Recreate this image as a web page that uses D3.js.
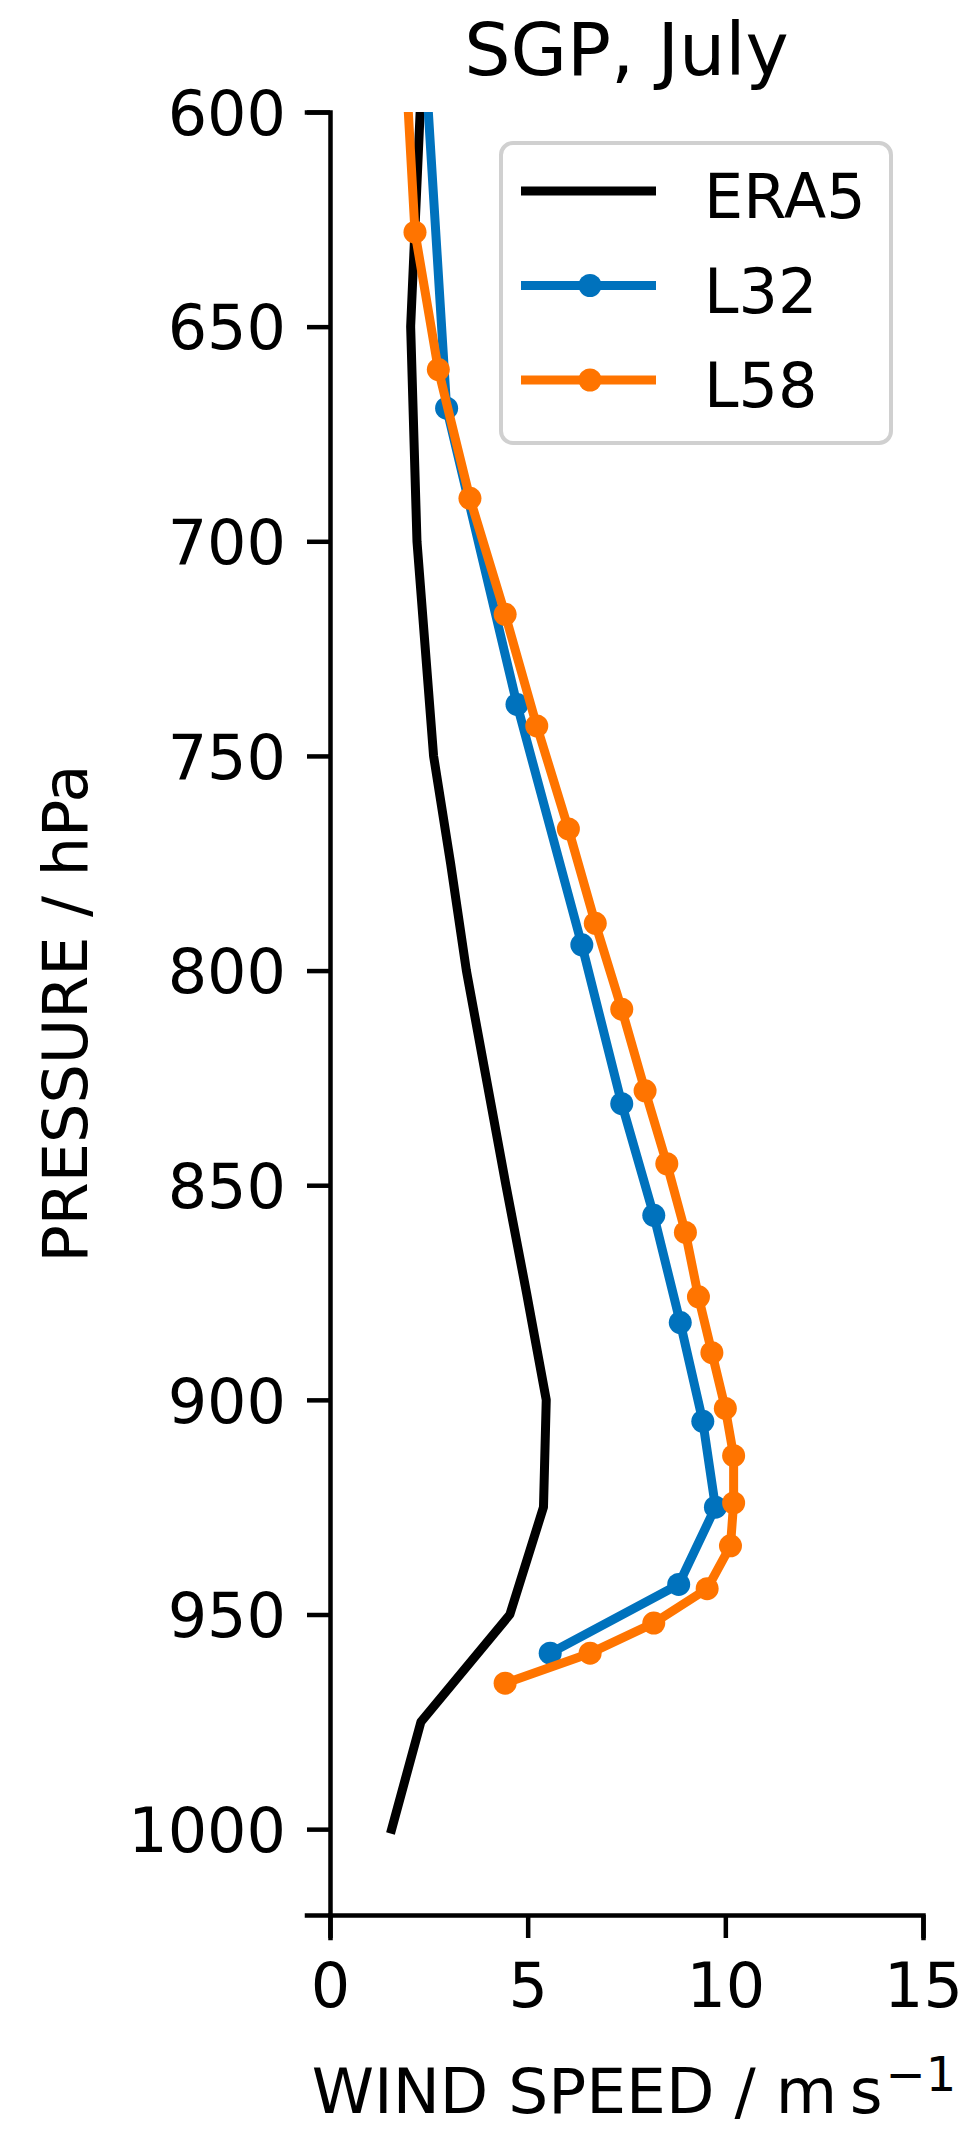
<!DOCTYPE html>
<html>
<head>
<meta charset="utf-8">
<script src="https://cdn.jsdelivr.net/npm/d3@7"></script>
<style>
  body { margin: 0; background: #fff; }
  svg { display: block; font-family: 'DejaVu Sans', sans-serif; }
</style>
</head>
<body>
<div id="chart"></div>
<script>
// wind speed profiles, SGP July
const seriesNames = ['ERA5', 'L32', 'L58'];
const seriesColors = ['#000000', '#0072bd', '#ff7400'];

const era5Pressure = [600, 650, 700, 750, 775, 800, 825, 850, 875, 900, 925, 950, 975, 1000];
const era5Speed = [2.28, 2.04, 2.2, 2.62, 3.05, 3.45, 3.95, 4.45, 4.97, 5.47, 5.4, 4.55, 2.3, 1.56];

const l32Pressure = [575, 669, 738, 794, 831, 857, 882, 905, 925, 943, 959];
const l32Speed = [2.32, 2.95, 4.73, 6.37, 7.38, 8.19, 8.86, 9.43, 9.75, 8.82, 5.57];

const l58Pressure = [580, 628, 660, 690, 717, 743, 767, 789, 809, 828, 845, 861, 876, 889, 902, 913, 924, 934, 944, 952, 959, 966];
const l58Speed = [1.86, 2.15, 2.74, 3.54, 4.43, 5.23, 6.03, 6.71, 7.38, 7.97, 8.52, 8.99, 9.32, 9.66, 10.0, 10.21, 10.21, 10.13, 9.54, 8.19, 6.58, 4.43];

const xTicks = [0, 5, 10, 15];
const yTicks = [600, 650, 700, 750, 800, 850, 900, 950, 1000];

const width = 964;
const height = 2129;
const box = { left: 330, right: 923, top: 112, bottom: 1915 };

const svg = d3.select('#chart')
    .append('svg')
    .attr('width', width)
    .attr('height', height);

const x = d3.scaleLinear()
    .domain([0, 15])
    .range([box.left, box.right]);

const y = d3.scaleLinear()
    .domain([600, 1020])
    .range([box.top, box.bottom]);

svg.append('clipPath')
    .attr('id', 'plot-area')
    .append('rect')
    .attr('x', box.left)
    .attr('y', box.top)
    .attr('width', box.right - box.left)
    .attr('height', box.bottom - box.top);

const series = [
    { name: seriesNames[0], color: seriesColors[0], marker: false, p: era5Pressure, v: era5Speed },
    { name: seriesNames[1], color: seriesColors[1], marker: true, p: l32Pressure, v: l32Speed },
    { name: seriesNames[2], color: seriesColors[2], marker: true, p: l58Pressure, v: l58Speed },
];

const line = d3.line()
    .x(d => x(d[1]))
    .y(d => y(d[0]));

const plot = svg.append('g').attr('clip-path', 'url(#plot-area)');

series.forEach(s => {
    const pts = s.p.map((p, i) => [p, s.v[i]]);
    plot.append('path')
        .datum(pts)
        .attr('d', line)
        .attr('fill', 'none')
        .attr('stroke', s.color)
        .attr('stroke-width', 9)
        .attr('stroke-linejoin', 'round')
        .attr('stroke-linecap', 'square');
    if (s.marker) {
        plot.append('g')
            .attr('fill', s.color)
            .selectAll('circle')
            .data(pts)
            .join('circle')
            .attr('cx', d => x(d[1]))
            .attr('cy', d => y(d[0]))
            .attr('r', 11.5);
    }
});

// axes
let styleAxis = (g) => {
    g.selectAll('.domain').attr('stroke-width', 4.5).attr('stroke-linecap', 'square');
    g.selectAll('.tick line').attr('stroke-width', 4.5);
    g.selectAll('.tick text').attr('font-size', 62).attr('fill', '#000')
        .attr('font-family', 'DejaVu Sans');
};

svg.append('g')
    .attr('transform', `translate(${box.left},0)`)
    .call(d3.axisLeft(y).tickValues(yTicks).tickFormat(d3.format('d'))
        .tickSizeOuter(0).tickSize(23).tickPadding(21))
    .call(styleAxis)
    .call(g => g.selectAll('.tick text').attr('dy', '0.36em'));

svg.append('g')
    .attr('transform', `translate(0,${box.bottom})`)
    .call(d3.axisBottom(x).tickValues(xTicks).tickFormat(d3.format('d'))
        .tickSizeOuter(0).tickSize(23).tickPadding(21))
    .call(styleAxis)
    .call(g => g.selectAll('.tick text').attr('dy', '0.77em'));

// title and labels
svg.append('text')
    .attr('x', (box.left + box.right) / 2)
    .attr('y', 75)
    .attr('text-anchor', 'middle')
    .attr('font-size', 73)
    .text('SGP, July');

svg.append('text')
    .attr('transform', `translate(87,${(box.top + box.bottom) / 2}) rotate(-90)`)
    .attr('text-anchor', 'middle')
    .attr('font-size', 62)
    .text('PRESSURE / hPa');

const xLabel = svg.append('text')
    .attr('x', 634)
    .attr('y', 2113)
    .attr('text-anchor', 'middle')
    .attr('font-size', 63);
xLabel.append('tspan').text('WIND SPEED / m\u2009s');
xLabel.append('tspan')
    .attr('dx', 3)
    .attr('dy', -22)
    .attr('font-size', 48)
    .text('\u22121');

// legend
const legend = svg.append('g');
legend.append('rect')
    .attr('x', 501)
    .attr('y', 143)
    .attr('width', 390)
    .attr('height', 300)
    .attr('rx', 12)
    .attr('fill', '#fff')
    .attr('fill-opacity', 0.8)
    .attr('stroke', '#d0d0d0')
    .attr('stroke-width', 4);

const rows = legend.selectAll('g.row')
    .data(series)
    .join('g')
    .attr('class', 'row')
    .attr('transform', (d, i) => `translate(0,${191 + i * 94.5})`);

rows.append('line')
    .attr('x1', 521)
    .attr('x2', 656)
    .attr('stroke', d => d.color)
    .attr('stroke-width', 9);

rows.filter(d => d.marker)
    .append('circle')
    .attr('cx', 590)
    .attr('r', 11.5)
    .attr('fill', d => d.color);

rows.append('text')
    .attr('x', 704)
    .attr('y', 27)
    .attr('font-size', 62)
    .text(d => d.name);
</script>
</body>
</html>
